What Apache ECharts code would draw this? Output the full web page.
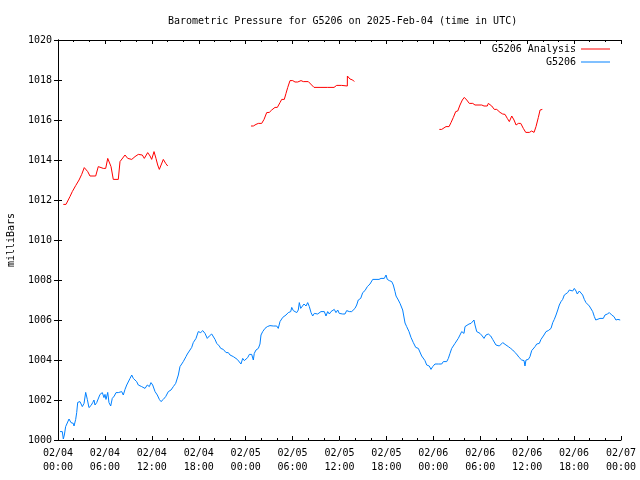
<!DOCTYPE html>
<html><head><meta charset="utf-8">
<script src="https://cdn.jsdelivr.net/npm/echarts@6/dist/echarts.min.js"></script>
<style>html,body{margin:0;padding:0;background:#fff}#c{width:640px;height:480px}</style>
</head><body><div id="c"></div>
<script>
// Hours since 02/04 00:00 UTC
const analysisHours1 = [0.68,1.02,1.53,1.83,2.26,2.69,3.03,3.36,3.80,4.09,4.82,5.15,5.37,5.79,6.10,6.36,6.78,7.07,7.71,7.93,8.06,8.57,8.92,9.43,9.85,10.27,10.78,11.04,11.47,11.77,11.98,12.28,12.53,12.75,12.96,13.04,13.47,13.77,14.03];
const analysisValues1 = [1011.78,1011.78,1012.17,1012.42,1012.72,1013.0,1013.28,1013.62,1013.42,1013.2,1013.2,1013.67,1013.67,1013.58,1013.58,1014.08,1013.67,1013.03,1013.03,1013.92,1013.97,1014.25,1014.08,1014.03,1014.17,1014.28,1014.25,1014.08,1014.37,1014.2,1014.03,1014.42,1014.08,1013.75,1013.53,1013.53,1014.03,1013.83,1013.7,1013.7];
const analysisHours2 = [24.68,24.98,25.32,25.62,26.05,26.35,26.69,27.02,27.33,27.75,28.05,28.39,28.61,28.94,29.16,29.38,29.67,30.02,30.31,30.66,30.82,31.08,31.37,32.01,32.74,33.51,34.44,35.30,35.64,36.28,37.00,37.01,37.34,37.69,37.89];
const analysisValues2 = [1015.7,1015.7,1015.78,1015.83,1015.83,1016.03,1016.37,1016.38,1016.5,1016.63,1016.63,1016.87,1017.03,1017.03,1017.33,1017.63,1017.97,1017.97,1017.9,1017.9,1017.87,1017.97,1017.92,1017.92,1017.63,1017.63,1017.63,1017.63,1017.73,1017.73,1017.7,1018.2,1018.05,1018.0,1017.92];
const analysisHours3 = [48.77,49.07,49.28,49.62,50.01,50.26,50.56,50.86,51.12,51.41,51.71,51.96,52.27,52.60,52.78,53.04,53.33,54.19,54.48,54.90,55.03,55.47,55.80,56.11,56.53,56.87,57.17,57.46,57.72,58.03,58.32,58.58,58.75,58.87,59.18,59.51,59.82,60.28,60.58,60.88,61.13,61.43,61.65,61.94];
const analysisValues3 = [1015.53,1015.53,1015.58,1015.67,1015.67,1015.87,1016.13,1016.42,1016.45,1016.75,1017.0,1017.13,1017.0,1016.83,1016.78,1016.83,1016.75,1016.75,1016.7,1016.7,1016.83,1016.7,1016.53,1016.53,1016.38,1016.3,1016.28,1016.08,1015.92,1016.2,1016.0,1015.75,1015.67,1015.83,1015.83,1015.58,1015.38,1015.38,1015.45,1015.38,1015.67,1016.13,1016.5,1016.53];

const stationHours = [0.26,0.55,0.68,0.81,0.98,1.19,1.41,1.66,1.96,2.05,2.26,2.39,2.52,2.81,2.94,3.11,3.33,3.54,3.75,3.96,4.22,4.44,4.60,4.73,4.95,5.15,5.37,5.67,5.88,6.01,6.14,6.36,6.52,6.74,6.94,7.20,7.42,7.71,7.93,8.15,8.35,8.57,8.79,8.99,9.21,9.43,9.63,9.85,10.06,10.27,10.49,10.70,10.91,11.13,11.42,11.68,11.89,12.11,12.41,12.70,12.96,13.17,13.47,13.77,14.11,14.45,14.75,15.05,15.39,15.60,15.82,
16.02,16.37,16.54,16.79,17.10,17.30,17.65,17.94,18.07,18.25,18.51,18.80,19.09,19.35,19.66,19.86,20.08,20.30,20.63,20.81,21.14,21.49,21.78,22.00,22.21,22.42,22.64,22.93,23.15,23.40,23.62,23.83,24.00,24.26,24.47,24.77,24.98,25.10,25.32,25.62,25.83,25.96,26.18,26.47,26.77,27.11,27.33,27.53,27.97,28.17,
28.39,28.74,29.16,29.45,29.76,29.89,30.09,30.31,30.53,30.73,30.86,31.04,31.29,31.46,31.72,31.93,32.14,32.36,32.57,32.78,33.00,33.21,33.42,33.63,33.85,34.06,34.27,34.49,34.70,34.91,35.13,35.33,35.55,35.77,35.97,36.19,36.41,36.70,36.92,37.25,37.56,37.77,37.98,38.20,38.40,38.71,38.97,39.26,39.56,39.90,40.25,40.54,40.76,41.05,41.31,41.53,41.73,41.95,42.11,42.37,42.68,42.88,43.10,43.23,43.52,
43.74,44.08,44.38,44.59,44.89,45.14,45.44,45.75,46.08,46.30,46.51,46.72,46.93,47.15,47.48,47.70,47.92,48.21,48.64,49.07,49.28,49.71,49.92,50.13,50.35,50.55,50.77,50.99,51.19,51.41,51.63,51.83,51.92,52.05,52.27,52.56,52.82,53.03,53.20,53.33,53.55,53.75,53.97,54.26,54.48,54.73,55.03,55.34,55.59,55.80,56.01,56.23,56.44,56.65,56.87,57.08,57.29,57.59,57.89,58.15,58.44,58.74,58.96,
59.08,59.30,59.60,59.72,59.85,60.15,60.36,60.58,60.79,61.01,61.22,61.55,61.77,61.99,62.15,62.41,62.70,62.92,63.05,63.27,63.47,63.69,63.91,64.11,64.33,64.54,64.75,64.97,65.18,65.39,65.61,65.82,66.03,66.25,66.41,66.67,66.89,67.10,67.31,67.52,67.74,67.95,68.17,68.38,68.59,68.77,69.02,69.31,69.74,69.95,70.25,70.51,70.81,71.10,71.35,71.61,71.90];
const stationValues = [1000.42,1000.42,1000.05,1000.25,1000.67,1000.67,1001.05,1000.87,1000.83,1000.7,1001.03,1001.37,1001.88,1001.92,1001.97,1001.67,1001.83,1002.38,1002.03,1001.62,1001.72,1001.87,1002.0,1001.75,1001.87,1001.92,1002.28,1002.37,1002.12,1002.28,1002.03,1002.38,1001.87,1001.7,1002.08,1002.2,1002.37,1002.37,1002.28,1002.42,1002.25,1002.53,1002.75,1002.8,1003.08,1003.25,1003.08,1003.0,1002.92,1002.75,1002.83,1002.67,1002.75,1002.58,1002.75,1002.67,1002.87,1002.75,1002.42,1002.25,1002.03,1001.92,1002.03,1002.17,1002.42,1002.5,1002.67,1002.83,1003.25,1003.67,1003.8,
1003.92,1004.17,1004.3,1004.2,1004.63,1004.87,1005.08,1005.42,1005.5,1005.37,1005.47,1005.33,1005.08,1005.2,1005.3,1005.25,1005.03,1004.83,1004.7,1004.58,1004.53,1004.37,1004.37,1004.25,1004.33,1004.17,1004.12,1004.03,1004.0,1003.8,1004.08,1003.97,1003.87,1004.12,1004.28,1004.28,1004.0,1004.33,1004.5,1004.58,1004.8,1005.25,1005.42,1005.58,1005.67,1005.72,1005.78,1005.7,1005.7,1005.58,
1005.92,1006.13,1006.25,1006.37,1006.42,1006.63,1006.47,1006.53,1006.37,1006.5,1006.87,1006.58,1006.58,1006.8,1006.7,1006.87,1006.67,1006.37,1006.2,1006.33,1006.42,1006.3,1006.2,1006.42,1006.33,1006.42,1006.2,1006.42,1006.3,1006.42,1006.37,1006.53,1006.37,1006.5,1006.33,1006.42,1006.3,1006.3,1006.47,1006.42,1006.42,1006.33,1006.58,1006.75,1007.0,1007.08,1007.37,1007.47,1007.67,1007.8,1008.03,1008.03,1008.0,1008.03,1008.08,1008.0,1008.08,1008.25,1008.03,1007.97,1007.92,1007.75,1007.42,1007.2,1007.0,
1006.83,1006.5,1005.85,1005.67,1005.42,1005.13,1004.87,1004.63,1004.58,1004.5,1004.2,1004.13,1003.97,1003.75,1003.7,1003.53,1003.67,1003.8,1003.8,1003.8,1003.92,1003.92,1004.08,1004.33,1004.58,1004.67,1004.83,1004.83,1005.08,1005.25,1005.42,1005.5,1005.33,1005.67,1005.75,1005.8,1005.83,1005.92,1006.0,1005.75,1005.42,1005.37,1005.33,1005.2,1005.08,1005.25,1005.3,1005.2,1005.03,1005.03,1004.75,1004.83,1004.7,1004.8,1004.87,1004.83,1004.75,1004.67,1004.58,1004.5,1004.38,1004.25,1004.13,
1004.17,1004.0,1003.97,1003.7,1004.0,1004.03,1004.17,1004.47,1004.5,1004.67,1004.8,1004.83,1005.03,1005.0,1005.25,1005.42,1005.47,1005.42,1005.58,1005.87,1006.03,1006.25,1006.5,1006.75,1006.92,1007.03,1007.25,1007.25,1007.37,1007.5,1007.58,1007.45,1007.58,1007.45,1007.3,1007.45,1007.42,1007.25,1007.03,1006.87,1006.83,1006.7,1006.67,1006.42,1006.17,1006.0,1006.08,1006.08,1006.08,1006.25,1006.3,1006.37,1006.25,1006.17,1006.0,1006.03,1006.0];

const seriesNames = ['G5206 Analysis', 'G5206'];
const titleText = 'Barometric Pressure for G5206 on 2025-Feb-04 (time in UTC)';
const yAxisName = 'milliBars';

function pairs(h, v) { return h.map((x, i) => [x, v[i]]); }
const analysisData = [].concat(
  pairs(analysisHours1, analysisValues1), [[18, null]],
  pairs(analysisHours2, analysisValues2), [[43, null]],
  pairs(analysisHours3, analysisValues3));
const stationData = pairs(stationHours, stationValues);

const FONT = 'DejaVu Sans Mono';
function fmtX(v) {
  const day = 4 + Math.floor(v / 24);
  const hh = v % 24;
  return '02/0' + day + '\n' + (hh < 10 ? '0' : '') + hh + ':00';
}
const axisLine = { show: true, lineStyle: { color: '#000', width: 1 } };
const chart = echarts.init(document.getElementById('c'), null, { renderer: 'canvas' });
chart.setOption({
  animation: false,
  backgroundColor: '#fff',
  textStyle: { fontFamily: FONT, color: '#000' },
  title: {
    text: titleText, left: 163, top: 11,
    textStyle: { fontFamily: FONT, fontSize: 10, fontWeight: 'normal', color: '#000' }
  },
  grid: { left: 58, right: 19, top: 40, bottom: 40, containLabel: false, outerBoundsMode: 'none' },
  legend: {
    orient: 'vertical', align: 'right', right: 25, top: 38, itemGap: 1,
    itemWidth: 29, itemHeight: 1, icon: 'rect',
    textStyle: { fontFamily: FONT, fontSize: 10, color: '#000', lineHeight: 12 },
    data: seriesNames
  },
  xAxis: [{
    type: 'value', min: 0, max: 72, interval: 6,
    axisLine: axisLine,
    axisTick: { inside: true, length: 4, lineStyle: { color: '#000' } },
    minorTick: { show: true, splitNumber: 3, length: 2, lineStyle: { color: '#000' } },
    splitLine: { show: false },
    axisLabel: { formatter: fmtX, fontFamily: FONT, fontSize: 10, color: '#000', lineHeight: 14, margin: 6 }
  }, {
    type: 'value', min: 0, max: 72, interval: 6, position: 'top',
    axisLine: axisLine,
    axisTick: { inside: true, length: 4, lineStyle: { color: '#000' } },
    minorTick: { show: true, splitNumber: 3, length: 2, lineStyle: { color: '#000' } },
    splitLine: { show: false }, axisLabel: { show: false }
  }],
  yAxis: [{
    type: 'value', min: 1000, max: 1020, interval: 2,
    name: yAxisName, nameLocation: 'middle', nameGap: 42, nameRotate: 90,
    nameTextStyle: { fontFamily: FONT, fontSize: 10, color: '#000' },
    axisLine: axisLine,
    axisTick: { inside: true, length: 4, lineStyle: { color: '#000' } },
    splitLine: { show: false },
    axisLabel: { formatter: v => String(v), fontFamily: FONT, fontSize: 10, color: '#000', margin: 6 }
  }, {
    type: 'value', min: 1000, max: 1020, interval: 2, position: 'right',
    axisLine: axisLine,
    axisTick: { inside: true, length: 4, lineStyle: { color: '#000' } },
    splitLine: { show: false }, axisLabel: { show: false }
  }],
  series: [{
    name: seriesNames[0], type: 'line', data: analysisData, showSymbol: false,
    connectNulls: false, color: '#ff0000', lineStyle: { width: 1, color: '#ff0000' }
  }, {
    name: seriesNames[1], type: 'line', data: stationData, showSymbol: false,
    color: '#0080ff', lineStyle: { width: 1, color: '#0080ff' }
  }]
});
</script></body></html>
